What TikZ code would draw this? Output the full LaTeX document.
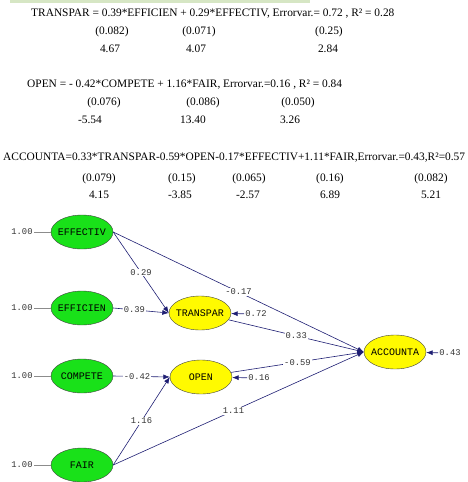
\documentclass[tikz,border=0pt]{standalone}
\usepackage{fontspec}
\setmainfont{Liberation Serif}
\setmonofont{Liberation Mono}
\usetikzlibrary{arrows.meta,%
                shapes.geometric}
\definecolor{pathblue}{RGB}{30,30,115}
\definecolor{latgreen}{RGB}{25,225,25}
\definecolor{latyellow}{RGB}{255,250,0}
\definecolor{topbar}{RGB}{214,230,196}
\tikzset{
  exo/.style={ellipse,draw=black!75,fill=latgreen,inner xsep=-3pt,inner ysep=0pt,
    minimum width=62pt,minimum height=34pt,
    font=\ttfamily\fontsize{10}{11}\selectfont},
  endo/.style={exo,fill=latyellow},
  coef/.style={draw=pathblue,semithick,-{Latex[length=6.5pt,width=5pt]}},
  coeflabel/.style={fill=white,inner sep=1pt,text=black!80,
    font=\ttfamily\fontsize{8.8}{9}\selectfont},
  fixline/.style={draw=black!45},
  eqline/.style={anchor=west,inner sep=0pt,font=\fontsize{11.4}{12}\selectfont},
  eqnum/.style={inner sep=0pt,font=\fontsize{11.4}{12}\selectfont}
}
\begin{document}
\begin{tikzpicture}[x=1pt,y=-1pt]
  \useasboundingbox (0,0) rectangle (468,482);
  \fill[topbar] (10,0) rectangle (310,3);

  % structural equations
  \node[eqline] (eqT) at (31,14) {TRANSPAR = 0.39*EFFICIEN + 0.29*EFFECTIV, Errorvar.= 0.72 , R² = 0.28};
  \node[eqnum] at (112,32) {(0.082)};
  \node[eqnum] at (199,32) {(0.071)};
  \node[eqnum] at (329,32) {(0.25)};
  \node[eqnum] at (110,49) {4.67};
  \node[eqnum] at (196,49) {4.07};
  \node[eqnum] at (328,49) {2.84};

  \node[eqline] (eqO) at (27,85) {OPEN = - 0.42*COMPETE + 1.16*FAIR, Errorvar.=0.16 , R² = 0.84};
  \node[eqnum] at (104,103) {(0.076)};
  \node[eqnum] at (203,103) {(0.086)};
  \node[eqnum] at (298,103) {(0.050)};
  \node[eqnum] at (90,120) {-5.54};
  \node[eqnum] at (193,120) {13.40};
  \node[eqnum] at (290,120) {3.26};

  \node[eqline] (eqA) at (3,158) {ACCOUNTA=0.33*TRANSPAR-0.59*OPEN-0.17*EFFECTIV+1.11*FAIR,Errorvar.=0.43,R²=0.57};
  \node[eqnum] at (99,179) {(0.079)};
  \node[eqnum] at (182,179) {(0.15)};
  \node[eqnum] at (249,179) {(0.065)};
  \node[eqnum] at (330,179) {(0.16)};
  \node[eqnum] at (431,179) {(0.082)};
  \node[eqnum] at (99,195) {4.15};
  \node[eqnum] at (180,195) {-3.85};
  \node[eqnum] at (248,195) {-2.57};
  \node[eqnum] at (330,195) {6.89};
  \node[eqnum] at (431,195) {5.21};

  % latent variables
  \node[exo] (EFFECTIV) at (82,232) {EFFECTIV};
  \node[exo] (EFFICIEN) at (82,308) {EFFICIEN};
  \node[exo] (COMPETE) at (82,376) {COMPETE};
  \node[exo] (FAIR) at (82,465) {FAIR};
  \node[endo] (TRANSPAR) at (200,313) {TRANSPAR};
  \node[endo] (OPEN) at (201,377) {OPEN};
  \node[endo] (ACCOUNTA) at (395,352) {ACCOUNTA};

  % fixed variances
  \foreach \v in {EFFECTIV,EFFICIEN,COMPETE,FAIR}{
    \node[coeflabel] (var\v) at ([xshift=-60pt]\v) {1.00};
    \draw[fixline] (var\v) -- (\v);
  }

  % paths
  \draw[coef] (EFFECTIV.east) -- node[coeflabel,pos=0.5] {0.29} (TRANSPAR.west);
  \draw[coef] (EFFICIEN.east) -- node[coeflabel,pos=0.38] {0.39} (TRANSPAR.west);
  \draw[coef] (EFFECTIV.east) -- node[coeflabel,pos=0.5] {-0.17} (ACCOUNTA.west);
  \draw[coef] (TRANSPAR) -- node[coeflabel,pos=0.5] {0.33} (ACCOUNTA.west);
  \draw[coef] (COMPETE.east) -- node[coeflabel,pos=0.42] {-0.42} (OPEN.west);
  \draw[coef] (OPEN) -- node[coeflabel,pos=0.5] {-0.59} (ACCOUNTA.west);
  \draw[coef] (FAIR.east) -- node[coeflabel,pos=0.5] {1.16} (OPEN.west);
  \draw[coef] (FAIR.east) -- node[coeflabel,pos=0.48] {1.11} (ACCOUNTA.west);

  % error variances
  \node[coeflabel] (errT) at (256,314) {0.72};
  \node[coeflabel] (errO) at (259,378) {0.16};
  \node[coeflabel] (errA) at (450,353) {0.43};
  \draw[coef] (errT) -- (TRANSPAR);
  \draw[coef] (errO) -- (OPEN);
  \draw[coef] (errA) -- (ACCOUNTA);
\end{tikzpicture}
\end{document}
